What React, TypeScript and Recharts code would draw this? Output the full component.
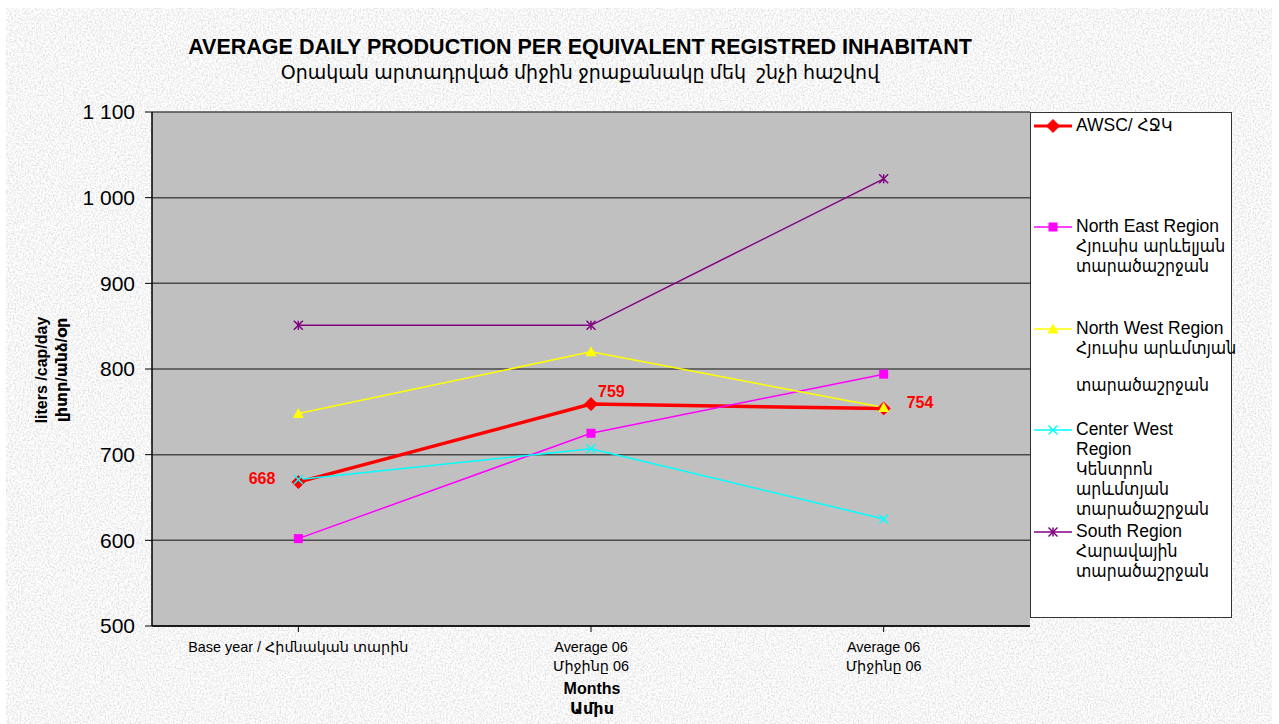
import React from 'react';
import { LineChart, Line, XAxis, YAxis, CartesianGrid, Legend } from 'recharts';

const periods = ['base', 'avg1', 'avg2'];
const periodLabels = [
  ['Base year / Հիմնական տարին'],
  ['Average 06', 'Միջինը 06'],
  ['Average 06', 'Միջինը 06'],
];
const awsc = [668, 759, 754];
const northEast = [602, 725, 794];
const northWest = [748, 820, 755];
const centerWest = [671, 707, 625];
const south = [851, 851, 1022];
const yTicks = [500, 600, 700, 800, 900, 1000, 1100];

const seriesInfo = [
  { key: 'awsc', color: '#ff0000', shape: 'diamond', width: 3.5, lines: ['AWSC/ ՀՋԿ'], top: 125 },
  { key: 'northEast', color: '#ff00ff', shape: 'square', width: 1.5, lines: ['North East Region', 'Հյուսիս արևելյան', 'տարածաշրջան'], top: 226 },
  { key: 'northWest', color: '#ffff00', shape: 'triangle', width: 1.5, lines: ['North West Region', 'Հյուսիս արևմտյան', '', 'տարածաշրջան'], top: 328 },
  { key: 'centerWest', color: '#00ffff', shape: 'x', width: 1.5, lines: ['Center West', 'Region', 'Կենտրոն', 'արևմտյան', 'տարածաշրջան'], top: 429 },
  { key: 'south', color: '#800080', shape: 'star', width: 1.5, lines: ['South Region', 'Հարավային', 'տարածաշրջան'], top: 531 },
];

const data = periods.map((p, i) => ({
  period: p,
  awsc: awsc[i],
  northEast: northEast[i],
  northWest: northWest[i],
  centerWest: centerWest[i],
  south: south[i],
}));

const FONT = 'Arial, "Liberation Sans", "DejaVu Sans", sans-serif';
const LEGEND_FONT = 'Arial, "Liberation Sans", "DejaVu Sans Condensed", "DejaVu Sans", sans-serif';

function Marker({ shape, color, cx, cy }: { shape: string; color: string; cx: number; cy: number }) {
  if (shape === 'diamond') {
    const r = 6.5;
    return <polygon points={`${cx},${cy - r} ${cx + r},${cy} ${cx},${cy + r} ${cx - r},${cy}`} fill={color} stroke={color} />;
  }
  if (shape === 'square') {
    return <rect x={cx - 4.5} y={cy - 4.5} width={9} height={9} fill={color} />;
  }
  if (shape === 'triangle') {
    const r = 5.5;
    return <polygon points={`${cx},${cy - r} ${cx + r},${cy + r - 1} ${cx - r},${cy + r - 1}`} fill={color} />;
  }
  if (shape === 'x') {
    const r = 4.5;
    return (
      <g stroke={color} strokeWidth={1.5}>
        <line x1={cx - r} y1={cy - r} x2={cx + r} y2={cy + r} />
        <line x1={cx - r} y1={cy + r} x2={cx + r} y2={cy - r} />
      </g>
    );
  }
  const r = 4.5;
  return (
    <g stroke={color} strokeWidth={1.5}>
      <line x1={cx - r} y1={cy - r} x2={cx + r} y2={cy + r} />
      <line x1={cx - r} y1={cy + r} x2={cx + r} y2={cy - r} />
      <line x1={cx} y1={cy - r} x2={cx} y2={cy + r} />
    </g>
  );
}

const makeDot = (shape: string, color: string) => (props: any) => (
  <Marker key={`${shape}-${props.index}`} shape={shape} color={color} cx={props.cx} cy={props.cy} />
);

const labelOffsets = [
  { dx: -23, dy: 2, anchor: 'end' },
  { dx: 7, dy: -7, anchor: 'start' },
  { dx: 23, dy: 0, anchor: 'start' },
];

const AwscLabel = (props: any) => {
  const { x, y, value, index } = props;
  const o = labelOffsets[index] || labelOffsets[0];
  return (
    <text x={x + o.dx} y={y + o.dy} textAnchor={o.anchor} fill="#ff0000" fontWeight="bold" fontSize={16} fontFamily={FONT}>
      {value}
    </text>
  );
};

const XTick = (props: any) => {
  const { x, y, index } = props;
  const lines = periodLabels[index] || [];
  return (
    <g>
      {lines.map((l, i) => (
        <text key={i} x={x} y={y + 18 + i * 19} textAnchor="middle" fontSize={14.4} fontFamily={FONT} fill="#000">
          {l}
        </text>
      ))}
    </g>
  );
};

const fmt = (v: number) => (v >= 1000 ? `${Math.floor(v / 1000)} ${String(v % 1000).padStart(3, '0')}` : String(v));

const LegendBox = () => (
  <div
    style={{
      position: 'absolute',
      left: 1030,
      top: 112,
      width: 202,
      height: 506,
      background: '#fff',
      border: '1px solid #333',
      boxSizing: 'border-box',
      fontFamily: LEGEND_FONT,
      fontSize: 17.5,
    }}
  >
    {seriesInfo.map((s) => (
      <div key={s.key} style={{ position: 'absolute', left: 0, top: s.top - 112 - 12, width: 200 }}>
        <svg width={42} height={20} style={{ position: 'absolute', left: 3, top: 2 }}>
          <line x1={0} y1={10} x2={38} y2={10} stroke={s.color} strokeWidth={s.key === 'awsc' ? 3 : 1.5} />
          <Marker shape={s.shape} color={s.color} cx={19} cy={10} />
        </svg>
        <div style={{ position: 'absolute', left: 45, top: 1, lineHeight: '20px', color: '#000', whiteSpace: 'nowrap' }}>
          {s.lines.map((l, i) => (
            <div key={i} style={{ height: l ? 20 : 17 }}>{l}</div>
          ))}
        </div>
      </div>
    ))}
  </div>
);

export default function App() {
  return (
    <div style={{ position: 'fixed', left: 0, top: 0, width: 1279, height: 724, overflow: 'hidden', background: '#ffffff' }}>
      <svg width={1279} height={724} style={{ position: 'absolute', left: 0, top: 0 }}>
        <filter id="grain" x="0" y="0" width="100%" height="100%">
          <feTurbulence type="fractalNoise" baseFrequency="0.6" numOctaves={2} seed={3} />
          <feColorMatrix type="matrix" values="0.6 0 0 0 0.62  0.6 0 0 0 0.62  0.6 0 0 0 0.62  0 0 0 0 1" />
        </filter>
        <rect x={6} y={8} width={1266} height={716} fill="#e9e9e9" />
        <rect x={6} y={8} width={1266} height={716} filter="url(#grain)" />
      </svg>
      <div style={{ position: 'absolute', left: 0, top: 0 }}>
        <LineChart width={1279} height={724} data={data} margin={{ top: 112, right: 249, left: 0, bottom: 0 }}>
          <CartesianGrid vertical={false} fill="#c0c0c0" stroke="#4a4a4a" strokeWidth={1.5} />
          <XAxis
            dataKey="period"
            scale="band"
            height={98}
            tick={<XTick />}
            tickLine={{ stroke: '#000' }}
            axisLine={{ stroke: '#000', strokeWidth: 1.5 }}
            interval={0}
          />
          <YAxis
            width={152}
            domain={[500, 1100]}
            ticks={yTicks}
            tickFormatter={fmt}
            tick={{ fontSize: 21, fill: '#000', fontFamily: FONT }}
            tickLine={{ stroke: '#000' }}
            tickSize={7}
            tickMargin={10}
            axisLine={{ stroke: '#000', strokeWidth: 1.5 }}
            interval={0}
          />
          <Legend content={<LegendBox />} wrapperStyle={{ position: 'absolute', left: 0, top: 0, width: 0, height: 0 }} />
          {seriesInfo.map((s) => (
            <Line
              key={s.key}
              type="linear"
              dataKey={s.key}
              stroke={s.color}
              strokeWidth={s.width}
              dot={makeDot(s.shape, s.color)}
              activeDot={false}
              isAnimationActive={false}
              label={s.key === 'awsc' ? <AwscLabel /> : undefined}
            />
          ))}
        </LineChart>
      </div>
      <div style={{ position: 'absolute', left: 130, top: 34, width: 900, textAlign: 'center', fontFamily: FONT, color: '#000' }}>
        <div style={{ fontSize: 21.5, fontWeight: 'bold', lineHeight: '26px' }}>AVERAGE DAILY PRODUCTION PER EQUIVALENT REGISTRED INHABITANT</div>
        <div style={{ fontSize: 19, lineHeight: '26px' }}>Օրական արտադրված միջին ջրաքանակը մեկ&nbsp;&nbsp;շնչի հաշվով</div>
      </div>
      <div
        style={{
          position: 'absolute',
          left: 52,
          top: 370,
          transform: 'translate(-50%, -50%) rotate(-90deg)',
          fontFamily: FONT,
          fontSize: 16,
          fontWeight: 'bold',
          textAlign: 'center',
          lineHeight: '20px',
          whiteSpace: 'nowrap',
        }}
      >
        <div>liters /cap/day</div>
        <div>լիտր/անձ/օր</div>
      </div>
      <div
        style={{
          position: 'absolute',
          left: 492,
          top: 679,
          width: 200,
          textAlign: 'center',
          fontFamily: FONT,
          fontSize: 16,
          fontWeight: 'bold',
          lineHeight: '20px',
        }}
      >
        <div>Months</div>
        <div>Ամիս</div>
      </div>
    </div>
  );
}
